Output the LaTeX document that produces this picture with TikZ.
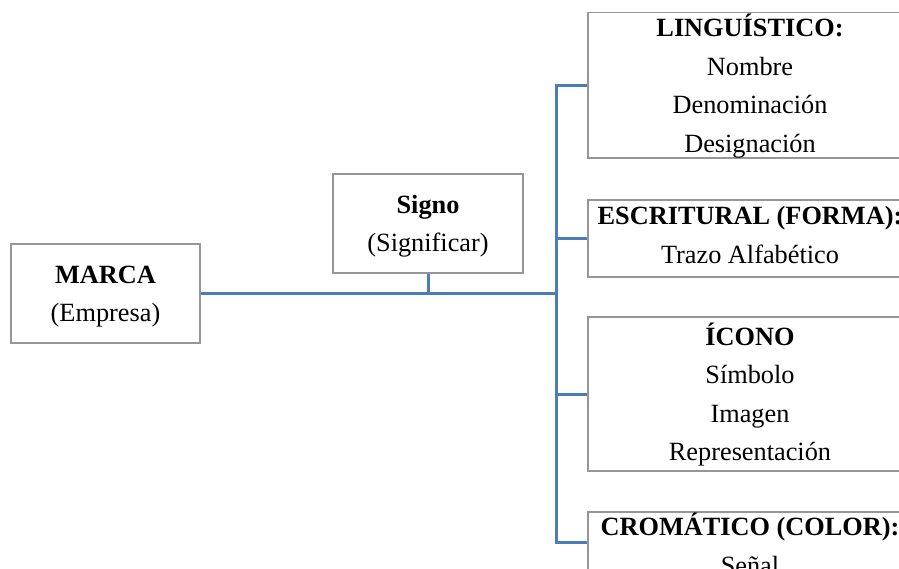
\documentclass[tikz,border=0pt]{standalone}
\usepackage{fontspec}
\setmainfont{Liberation Serif}
\definecolor{connblue}{RGB}{74,126,187}
\definecolor{boxgray}{RGB}{150,150,150}
\newcommand{\lnstr}{\vrule width 0pt height 24pt depth 6pt}
\begin{document}
\begin{tikzpicture}[x=1pt,y=-1pt,
  box/.style={draw=boxgray, line width=1.5pt, fill=white, inner sep=0pt,
    align=center, font=\fontsize{26.3pt}{38.5pt}\selectfont},
  conn/.style={draw=connblue, line width=3pt}]
\useasboundingbox (0,0) rectangle (899,569);
\clip (0,0) rectangle (899,569);

\node[box, minimum width=189pt, minimum height=99pt] (marca) at (105.5,293.5)
  {\lnstr\textbf{MARCA}\\\lnstr(Empresa)};
\node[box, minimum width=190pt, minimum height=99pt] (signo) at (428,223.5)
  {\lnstr\textbf{Signo}\\\lnstr(Significar)};
\node[box, minimum width=324pt, minimum height=145pt] (ling) at (750,85.5)
  {\lnstr\textbf{LINGUÍSTICO:}\\\lnstr Nombre\\\lnstr Denominación\\\lnstr Designación};
\node[box, minimum width=324pt, minimum height=77pt] (escr) at (750,238.5)
  {\lnstr\textbf{ESCRITURAL (FORMA):}\\\vrule width 0pt height 24pt depth 12.5pt Trazo Alfabético};
\node[box, minimum width=324pt, minimum height=154pt] (icono) at (750,394)
  {\lnstr\textbf{ÍCONO}\\\lnstr Símbolo\\\lnstr Imagen\\\lnstr Representación};
\node[box, minimum width=324pt, anchor=north] (crom) at (750,511)
  {\lnstr\textbf{CROMÁTICO (COLOR):}\\\lnstr Señal};

\coordinate (trunkx) at (556,0);
\coordinate (hub) at (marca.east -| trunkx);
\coordinate (cromin) at ([yshift=-31pt]crom.north west);

\draw[conn] (marca.east) -- (hub);
\draw[conn] (signo.south) -- (signo.south |- hub);
\draw[conn] (hub) |- (ling.west);
\draw[conn] (hub) |- (escr.west);
\draw[conn] (hub) |- (icono.west);
\draw[conn] (hub) |- (cromin);
\end{tikzpicture}
\end{document}
